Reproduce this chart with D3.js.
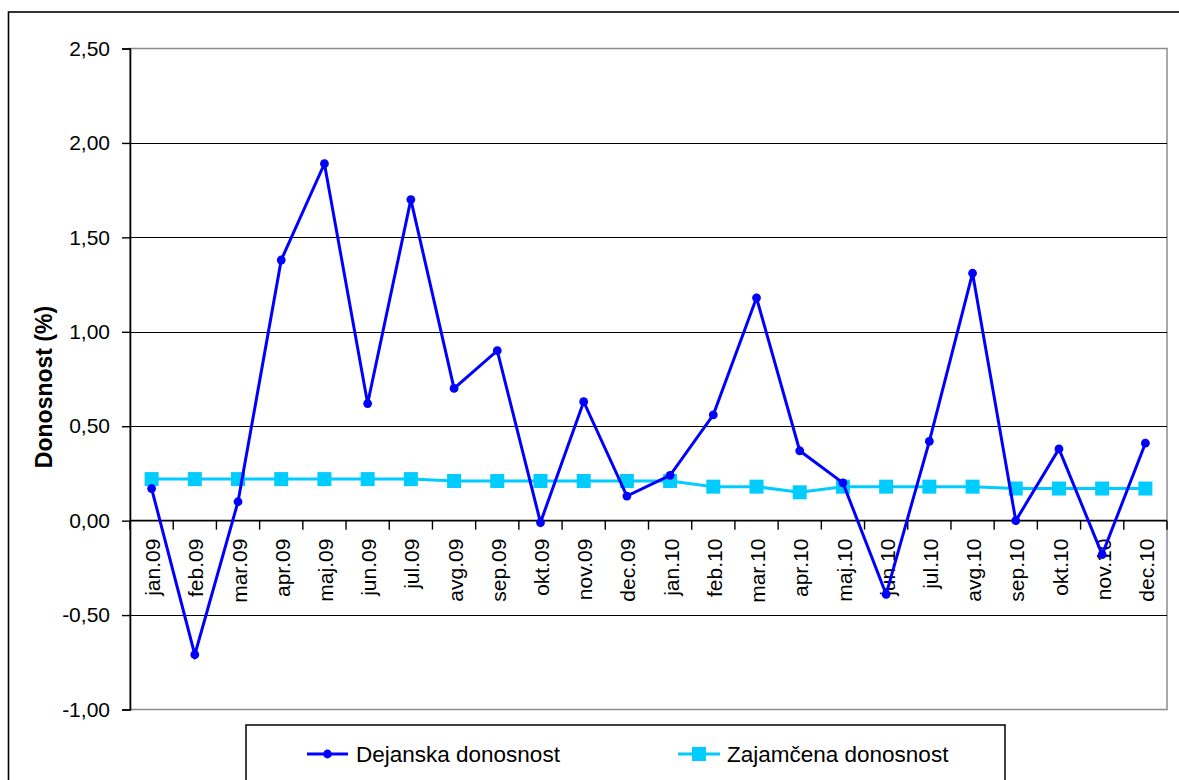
<!DOCTYPE html>
<html>
<head>
<meta charset="utf-8">
<script src="https://cdn.jsdelivr.net/npm/d3@7"></script>
<style>
  html, body { margin: 0; padding: 0; background: #fff; }
  svg { display: block; font-family: "Liberation Sans", Arial, sans-serif; }
</style>
</head>
<body>
<svg id="chart" width="1179" height="780"></svg>
<script>
const categories = ["jan.09","feb.09","mar.09","apr.09","maj.09","jun.09","jul.09","avg.09","sep.09","okt.09","nov.09","dec.09",
                    "jan.10","feb.10","mar.10","apr.10","maj.10","jun.10","jul.10","avg.10","sep.10","okt.10","nov.10","dec.10"];
const dejanska = [0.17,-0.71,0.10,1.38,1.89,0.62,1.70,0.70,0.90,-0.01,0.63,0.13,
                  0.24,0.56,1.18,0.37,0.20,-0.39,0.42,1.31,0.00,0.38,-0.18,0.41];
const zajamcena = [0.22,0.22,0.22,0.22,0.22,0.22,0.22,0.21,0.21,0.21,0.21,0.21,
                   0.21,0.18,0.18,0.15,0.18,0.18,0.18,0.18,0.17,0.17,0.17,0.17];
const yTicks = [-1.0,-0.5,0,0.5,1.0,1.5,2.0,2.5];
const seriesNames = ["Dejanska donosnost","Zajamčena donosnost"];
const yTitle = "Donosnost (%)";

const svg = d3.select("#chart");
const L = 130, R = 1167, T = 48.5, B = 709.5;

// outer chart border
svg.append("rect").attr("x",8.5).attr("y",12).attr("width",1200).attr("height",800)
  .attr("fill","none").attr("stroke","#000").attr("stroke-width",1.6);

const x = d3.scaleBand().domain(categories).range([L,R]).padding(0);
const y = d3.scaleLinear().domain([-1,2.5]).range([B,T]);
const fmt = v => d3.format(".2f")(v).replace(".",",").replace("\u2212","-");

// plot border (gray)
svg.append("rect").attr("x",L).attr("y",T).attr("width",R-L).attr("height",B-T)
  .attr("fill","none").attr("stroke","#8c8c8c").attr("stroke-width",1.5);

// gridlines
svg.append("g").selectAll("line").data(yTicks.filter(v => v>-1 && v<2.5 && v!==0)).join("line")
  .attr("x1",L).attr("x2",R).attr("y1",d=>Math.round(y(d))+0.5).attr("y2",d=>Math.round(y(d))+0.5)
  .attr("stroke","#000").attr("stroke-width",1.2);

// y axis
const yAxis = d3.axisLeft(y).tickValues(yTicks).tickFormat(fmt).tickSize(8).tickPadding(12);
const gy = svg.append("g").attr("transform",`translate(${L},0)`).call(yAxis);
gy.select(".domain").attr("stroke","#000").attr("stroke-width",1.6);
gy.selectAll(".tick line").attr("stroke","#000").attr("stroke-width",1.4);
gy.selectAll(".tick text").attr("font-size",21).attr("fill","#000")
  .attr("font-family","'Liberation Sans', Arial, sans-serif");

// x axis at zero
const y0 = y(0);
svg.append("line").attr("x1",L).attr("x2",R).attr("y1",y0).attr("y2",y0)
  .attr("stroke","#000").attr("stroke-width",1.8);
const bounds = categories.map(c => x(c)).concat([R]);
svg.append("g").selectAll("line").data(bounds).join("line")
  .attr("x1",d=>d).attr("x2",d=>d).attr("y1",y0).attr("y2",y0+9)
  .attr("stroke","#000").attr("stroke-width",1.4);
svg.append("g").selectAll("text").data(categories).join("text")
  .attr("transform",d=>`translate(${x(d)+x.bandwidth()/2+1},${y0+18}) rotate(-90)`)
  .attr("text-anchor","end").attr("dy","0.36em")
  .attr("font-size",21).attr("fill","#000").text(d=>d);

// y title
svg.append("text").attr("transform",`translate(43.5,387) rotate(-90)`)
  .attr("text-anchor","middle").attr("dy","0.36em")
  .attr("font-size",23).attr("font-weight","bold").attr("fill","#000").text(yTitle);

const cx = (d,i) => x(categories[i]) + x.bandwidth()/2;
const line = d3.line().x((d,i)=>cx(d,i)).y(d=>y(d));

// Zajamcena series
svg.append("path").datum(zajamcena).attr("d",line).attr("fill","none")
  .attr("stroke","#00ccff").attr("stroke-width",3);
svg.append("g").selectAll("rect").data(zajamcena).join("rect")
  .attr("x",(d,i)=>cx(d,i)-7).attr("y",d=>y(d)-7).attr("width",14).attr("height",14)
  .attr("fill","#00ccff");

// Dejanska series
svg.append("path").datum(dejanska).attr("d",line).attr("fill","none")
  .attr("stroke","#0000ff").attr("stroke-width",3);
svg.append("g").selectAll("circle").data(dejanska).join("circle")
  .attr("cx",(d,i)=>cx(d,i)).attr("cy",d=>y(d)).attr("r",4.4).attr("fill","#0000ff");

// legend
svg.append("rect").attr("x",246).attr("y",725).attr("width",759).attr("height",100)
  .attr("fill","#fff").attr("stroke","#000").attr("stroke-width",1.5);
const lg = svg.append("g");
lg.append("line").attr("x1",307).attr("x2",348).attr("y1",754).attr("y2",754)
  .attr("stroke","#0000ff").attr("stroke-width",3);
lg.append("circle").attr("cx",327.5).attr("cy",754).attr("r",4.4).attr("fill","#0000ff");
lg.append("text").attr("x",356).attr("y",754).attr("dy","0.36em").attr("font-size",22.5)
  .attr("fill","#000").text(seriesNames[0]);
lg.append("line").attr("x1",678).attr("x2",720).attr("y1",754).attr("y2",754)
  .attr("stroke","#00ccff").attr("stroke-width",3);
lg.append("rect").attr("x",692).attr("y",747).attr("width",14).attr("height",14).attr("fill","#00ccff");
lg.append("text").attr("x",727).attr("y",754).attr("dy","0.36em").attr("font-size",22.5)
  .attr("fill","#000").text(seriesNames[1]);
</script>
</body>
</html>
